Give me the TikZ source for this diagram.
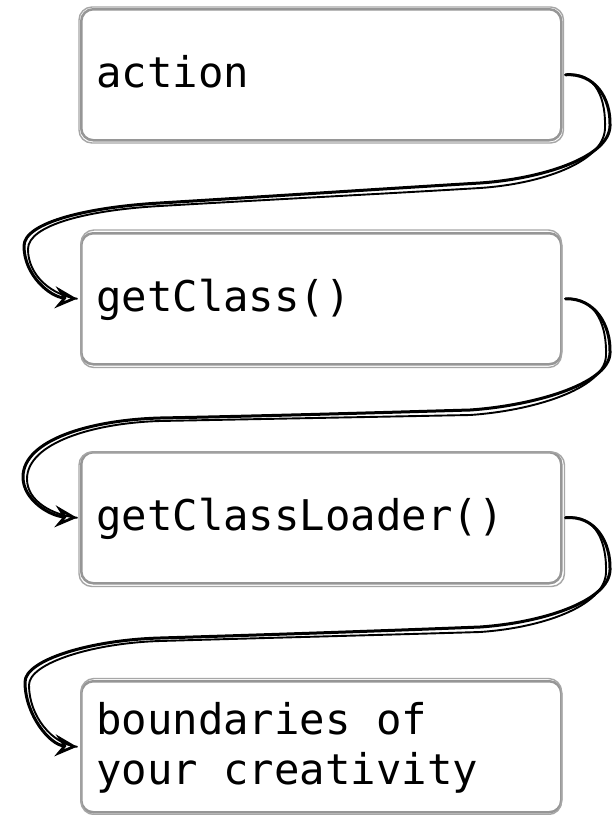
\documentclass[tikz,border=0pt]{standalone}
\usepackage{fontspec}
\newfontfamily\codefont{DejaVu Sans Mono}
\usetikzlibrary{arrows.meta}
\definecolor{boxgray}{RGB}{150,150,150}
\begin{document}
\begin{tikzpicture}[x=1pt,y=-1pt,
  box/.style={draw=boxgray, line width=2.5pt, rounded corners=12pt,
    minimum width=480pt, minimum height=131pt, anchor=north west, inner sep=0pt},
  boxsketch/.style={draw=boxgray!85, line width=1.4pt, rounded corners=13pt},
  lbl/.style={inner sep=0pt, anchor=base west,
    font=\codefont\fontsize{42.3}{50}\selectfont},
  ink/.style={draw=black, line width=3pt, line cap=round, line join=round},
  inkthin/.style={draw=black, line width=1.9pt, line cap=round, line join=round},
  tip/.style={-{Stealth[open, length=22pt, width=22pt, inset=8pt, line width=2.8pt]}},
]
% canvas
\fill[white] (0,0) rectangle (613,815);
\useasboundingbox (0,0) rectangle (613,815);

% boxes
\node[box] (b1) at (80,8) {};
\node[box] (b2) at (80,232) {};
\node[box] (b3) at (80,451) {};
\node[box] (b4) at (80,680) {};

% second, slightly offset pencil strokes of the boxes
\draw[boxsketch] ([shift={(-1,-1)}]b1.north west) rectangle ([shift={(1,1.5)}]b1.south east);
\draw[boxsketch] ([shift={(1,-2)}]b2.north west) rectangle ([shift={(-1,2)}]b2.south east);
\draw[boxsketch] ([shift={(-1,1)}]b3.north west) rectangle ([shift={(2,2)}]b3.south east);
\draw[boxsketch] ([shift={(1,-1.5)}]b4.north west) rectangle ([shift={(-1,1)}]b4.south east);

% labels
\node[lbl] (t1) at ([xshift=16pt,yshift=-13pt]b1.west) {action};
\node[lbl] (t2) at ([xshift=16pt,yshift=-13pt]b2.west) {getClass()};
\node[lbl] (t3) at ([xshift=16pt,yshift=-13pt]b3.west) {getClassLoader()};
\node[lbl] (t4) at ([xshift=16pt,yshift=12.5pt]b4.west) {boundaries of};
\node[lbl] (t4b) at ([xshift=16pt,yshift=-37.5pt]b4.west) {your creativity};

% connectors: action -> getClass()
\draw[ink, tip] ([xshift=3pt]b1.east)
  .. controls (595,73) and (611,98) .. (610,126)
  .. controls (609,158) and (540,179) .. (480,183)
  .. controls (380,189) and (260,197) .. (160,203)
  .. controls (90,207) and (24,222) .. (24,246)
  .. controls (24,275) and (50,297) .. ([xshift=-3pt]b2.west);
\draw[inkthin] ([xshift=3pt]b1.east)
  .. controls (597,71) and (606,100) .. (605,129)
  .. controls (603,163) and (540,184) .. (480,188)
  .. controls (380,194) and (262,200) .. (160,206)
  .. controls (88,210) and (28,225) .. (28,249)
  .. controls (28,276) and (52,295) .. ([xshift=-3pt]b2.west);

% getClass() -> getClassLoader()
\draw[ink, tip] ([xshift=3pt]b2.east)
  .. controls (595,298) and (611,325) .. (610,353)
  .. controls (609,385) and (530,406) .. (470,410)
  .. controls (367,413) and (263,416) .. (160,418)
  .. controls (90,420) and (23,440) .. (23,477)
  .. controls (23,500) and (50,516) .. ([xshift=-3pt]b3.west);
\draw[inkthin] ([xshift=3pt]b2.east)
  .. controls (597,297) and (607,327) .. (606,356)
  .. controls (604,390) and (530,411) .. (470,415)
  .. controls (367,417) and (263,419) .. (160,421)
  .. controls (93,423) and (27,443) .. (27,479)
  .. controls (27,501) and (52,515) .. ([xshift=-3pt]b3.west);

% getClassLoader() -> boundaries of your creativity
\draw[ink, tip] ([xshift=3pt]b3.east)
  .. controls (595,515) and (611,542) .. (610,570)
  .. controls (609,602) and (540,623) .. (480,627)
  .. controls (380,631) and (260,635) .. (160,638)
  .. controls (90,640) and (25,660) .. (25,682)
  .. controls (25,715) and (50,745) .. ([xshift=-3pt]b4.west);
\draw[inkthin] ([xshift=3pt]b3.east)
  .. controls (597,514) and (607,544) .. (606,573)
  .. controls (604,607) and (540,628) .. (480,632)
  .. controls (380,635) and (262,638) .. (160,641)
  .. controls (93,643) and (29,663) .. (29,685)
  .. controls (29,716) and (52,744) .. ([xshift=-3pt]b4.west);
\end{tikzpicture}
\end{document}
